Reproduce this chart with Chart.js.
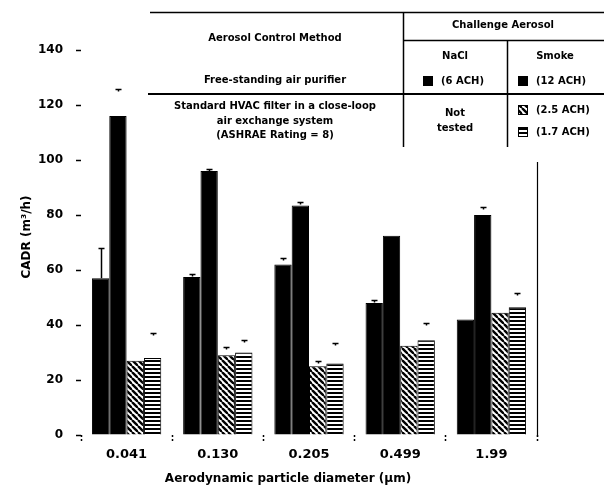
<!DOCTYPE html>
<html><head><meta charset="utf-8">
<script src="https://cdn.jsdelivr.net/npm/chart.js@4.4.1/dist/chart.umd.min.js"></script>
<style>html,body{margin:0;padding:0;background:#fff}#wrap{width:604px;height:488px;position:relative}</style>
</head><body><div id="wrap"><canvas id="c" width="604" height="488"></canvas></div>
<script>
// ---- data ----
const categories = ['0.041', '0.130', '0.205', '0.499', '1.99'];
const naclPurifier = [57, 57.5, 62, 48, 42];
const smokePurifier = [116, 96, 83.5, 72.5, 80];
const smokeHvac25 = [27, 29, 25, 32.5, 44.5];
const smokeHvac17 = [28, 30, 26, 34.5, 46.5];
const naclPurifierErr = [68, 58.5, 64.4, 49, null];
const smokePurifierErr = [126, 96.8, 84.7, null, 83];
const smokeHvac25Err = [null, 32, 27, null, null];
const smokeHvac17Err = [37, 34.5, 33.5, 40.7, 51.6];
const yTicks = [0, 20, 40, 60, 80, 100, 120, 140];
const yTitle = 'CADR (m\u00B3/h)';
const xTitle = 'Aerodynamic particle diameter (\u00B5m)';

const FONT = "'DejaVu Sans', sans-serif";

function hatchPattern() {
  const s = 6, c = document.createElement('canvas');
  c.width = s; c.height = s;
  const g = c.getContext('2d');
  g.fillStyle = '#fff'; g.fillRect(0, 0, s, s);
  g.strokeStyle = '#000'; g.lineWidth = 2.4;
  for (const o of [-s, 0, s]) { g.beginPath(); g.moveTo(o, 0); g.lineTo(o + s, s); g.stroke(); }
  return g.createPattern(c, 'repeat');
}
function stripePattern() {
  const c = document.createElement('canvas');
  c.width = 4; c.height = 4;
  const g = c.getContext('2d');
  g.fillStyle = '#fff'; g.fillRect(0, 0, 4, 4);
  g.fillStyle = '#000'; g.fillRect(0, 0, 4, 2);
  return g.createPattern(c, 'repeat');
}
const hatch = hatchPattern();
const stripes = stripePattern();
const errs = [naclPurifierErr, smokePurifierErr, smokeHvac25Err, smokeHvac17Err];

const overlay = {
  id: 'overlay',
  afterDatasetsDraw(chart) {
    const ctx = chart.ctx, y = chart.scales.y;
    ctx.save();
    ctx.strokeStyle = '#000'; ctx.lineWidth = 1.5;
    errs.forEach((arr, di) => {
      const meta = chart.getDatasetMeta(di);
      arr.forEach((v, i) => {
        if (v == null) return;
        const bar = meta.data[i];
        const x = Math.round(bar.x) + 0.5;
        const yt = Math.round(y.getPixelForValue(v)) + 0.5;
        ctx.beginPath();
        if (di === 0 && i === 0) { ctx.moveTo(x, bar.y); ctx.lineTo(x, yt); }
        ctx.moveTo(x - 3, yt); ctx.lineTo(x + 3, yt);
        ctx.moveTo(x, yt); ctx.lineTo(x, yt + 2);
        ctx.stroke();
      });
    });
    ctx.restore();
  },
  afterDraw(chart) {
    const ctx = chart.ctx, a = chart.chartArea;
    ctx.save();
    ctx.fillStyle = '#000'; ctx.strokeStyle = '#000';
    // right border
    ctx.lineWidth = 1.2;
    ctx.beginPath(); ctx.moveTo(a.right + 0.5, 162); ctx.lineTo(a.right + 0.5, a.bottom + 2); ctx.stroke();
    // axis titles
    ctx.font = 'bold 12px ' + FONT;
    ctx.textAlign = 'center'; ctx.textBaseline = 'middle';
    ctx.fillText(xTitle, 288, 479);
    ctx.save(); ctx.translate(27, 237); ctx.rotate(-Math.PI / 2); ctx.fillText(yTitle, 0, 0); ctx.restore();
    // table lines
    ctx.lineWidth = 1.5;
    ctx.beginPath();
    ctx.moveTo(150, 12.5); ctx.lineTo(604, 12.5);
    ctx.moveTo(403, 40.5); ctx.lineTo(604, 40.5);
    ctx.moveTo(403.5, 12); ctx.lineTo(403.5, 147);
    ctx.moveTo(507.5, 40); ctx.lineTo(507.5, 147);
    ctx.stroke();
    ctx.lineWidth = 2;
    ctx.beginPath(); ctx.moveTo(148, 94); ctx.lineTo(604, 94); ctx.stroke();
    // table text
    ctx.font = 'bold 10px ' + FONT;
    ctx.textAlign = 'center';
    ctx.fillText('Aerosol Control Method', 275, 38);
    ctx.fillText('Free-standing air purifier', 275, 80);
    ctx.fillText('Standard HVAC filter in a close-loop', 275, 106);
    ctx.fillText('air exchange system', 275, 121);
    ctx.fillText('(ASHRAE Rating = 8)', 275, 135);
    ctx.fillText('Challenge Aerosol', 503, 25);
    ctx.fillText('NaCl', 455, 56);
    ctx.fillText('Smoke', 555, 56);
    ctx.fillText('Not', 455, 113);
    ctx.fillText('tested', 455, 128);
    ctx.textAlign = 'left';
    ctx.fillText('(6 ACH)', 441, 81);
    ctx.fillText('(12 ACH)', 536, 81);
    ctx.fillText('(2.5 ACH)', 536, 110);
    ctx.fillText('(1.7 ACH)', 536, 132);
    // legend swatches
    ctx.fillRect(423, 76, 10, 10);
    ctx.fillRect(518, 76, 10, 10);
    ctx.fillStyle = hatch; ctx.fillRect(518, 105, 10, 10);
    ctx.lineWidth = 1; ctx.strokeRect(518.5, 105.5, 9, 9);
    ctx.fillStyle = stripes; ctx.fillRect(518, 127, 10, 10);
    ctx.strokeRect(518.5, 127.5, 9, 9);
    ctx.restore();
  }
};

new Chart(document.getElementById('c'), {
  type: 'bar',
  data: {
    labels: categories,
    datasets: [
      { label: 'NaCl, free-standing (6 ACH)', data: naclPurifier, backgroundColor: '#000', borderColor: '#000', borderWidth: 1 },
      { label: 'Smoke, free-standing (12 ACH)', data: smokePurifier, backgroundColor: '#000', borderColor: '#000', borderWidth: 1 },
      { label: 'Smoke, HVAC (2.5 ACH)', data: smokeHvac25, backgroundColor: hatch, borderColor: '#000', borderWidth: 1 },
      { label: 'Smoke, HVAC (1.7 ACH)', data: smokeHvac17, backgroundColor: stripes, borderColor: '#000', borderWidth: 1 }
    ]
  },
  options: {
    responsive: false,
    animation: false,
    datasets: { bar: { categoryPercentage: 0.76, barPercentage: 1.0 } },
    layout: { padding: { left: 0, top: 50, right: 67, bottom: 0 } },
    plugins: { legend: { display: false }, tooltip: { enabled: false } },
    scales: {
      x: {
        afterFit: s => { s.height = 53; },
        border: { display: false },
        grid: { display: true, drawOnChartArea: false, drawTicks: true, tickLength: 6, color: '#000', tickBorderDash: [2, 2], tickWidth: 1.5, offset: true },
        ticks: { color: '#000', padding: 6, font: { family: FONT, size: 13, weight: 'bold' } }
      },
      y: {
        min: 0, max: 140,
        afterFit: s => { s.width = 81; },
        afterBuildTicks: s => { s.ticks = yTicks.map(v => ({ value: v })); },
        border: { display: false },
        grid: { display: true, drawOnChartArea: false, drawTicks: true, tickLength: 5, color: '#000', tickWidth: 1.5 },
        ticks: { color: '#000', padding: 13, font: { family: FONT, size: 12, weight: 'bold' } }
      }
    }
  },
  plugins: [overlay]
});
</script>
</body></html>
